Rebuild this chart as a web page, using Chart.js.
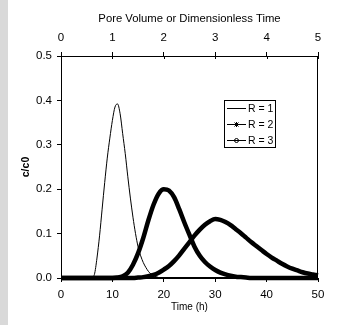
<!DOCTYPE html>
<html><head><meta charset="utf-8">
<script src="https://cdn.jsdelivr.net/npm/chart.js@4.4.0/dist/chart.umd.min.js"></script>
<style>
html,body{margin:0;padding:0;background:#fff;}
#wrap{position:relative;width:338px;height:325px;overflow:hidden;}
#strip{position:absolute;left:0;top:0;width:8px;height:325px;background:#d9d9d9;}
canvas{position:absolute;left:0;top:0;}
</style></head><body>
<div id="wrap"><div id="strip"></div><canvas id="c" width="338" height="325"></canvas></div>
<script>
// ---- data ----
const seriesLabels = ['R = 1', 'R = 2', 'R = 3'];
const timeHours = [0,1,2,3,4,5,6,7,8,9,10,11,12,13,14,15,16,17,18,19,20,21,22,23,24,25,26,27,28,29,30,31,32,33,34,35,36,37,38,39,40,41,42,43,44,45,46,47,48,49,50];
const r1Times = [0,5,5.5,6,6.5,7,7.5,8,8.5,9,9.5,10,10.5,11,11.5,12,12.5,13,13.5,14,14.5,15,15.5,16,16.5,17,17.5,18,18.5,19,20,50];
const r1Values = [0,0,0,0.001,0.008,0.045,0.095,0.155,0.215,0.27,0.315,0.355,0.385,0.392,0.37,0.325,0.28,0.228,0.18,0.137,0.1,0.07,0.05,0.035,0.024,0.015,0.009,0.005,0.003,0.001,0,0];
const r2Values = [0,0,0,0,0,0,0,0,0,0,0,0.001,0.004,0.012,0.03,0.056,0.09,0.13,0.165,0.19,0.2,0.197,0.182,0.155,0.125,0.097,0.07,0.05,0.036,0.026,0.018,0.012,0.008,0.005,0.003,0.002,0.001,0,0,0,0,0,0,0,0,0,0,0,0,0,0];
const r3Values = [0,0,0,0,0,0,0,0,0,0,0,0,0,0,0,0.001,0.002,0.004,0.007,0.012,0.019,0.027,0.038,0.051,0.066,0.081,0.096,0.109,0.12,0.128,0.133,0.131,0.126,0.119,0.11,0.101,0.091,0.081,0.072,0.063,0.054,0.046,0.039,0.032,0.026,0.021,0.017,0.013,0.01,0.008,0.006];
const bottomTickValues = [0,10,20,30,40,50];
const topTickValues = [0,1,2,3,4,5];
const yTickValues = [0,0.1,0.2,0.3,0.4,0.5];
const yTickLabels = ['0.0','0.1','0.2','0.3','0.4','0.5'];

const FONT = 'Liberation Sans, Arial, sans-serif';
const pts = (xs, ys) => xs.map((x, i) => ({x: x, y: ys[i]}));

const frame = {
  id: 'frame',
  afterDraw(chart) {
    const ctx = chart.ctx, a = chart.chartArea;
    ctx.save();
    ctx.strokeStyle = '#000'; ctx.lineWidth = 1;
    ctx.strokeRect(Math.round(a.left) + 0.5, Math.round(a.top) + 0.5, Math.round(a.right - a.left) - 1, Math.round(a.bottom - a.top) - 1);
    // inner part of top-axis ticks (they cross the axis)
    const s = chart.scales.x2;
    ctx.beginPath();
    topTickValues.forEach(v => {
      const px = Math.round(s.getPixelForValue(v)) + 0.5;
      ctx.moveTo(px, a.top); ctx.lineTo(px, a.top + 3);
    });
    ctx.stroke();
    // legend
    const lx = 224, ly = 100, lw = 52, lh = 48;
    ctx.fillStyle = '#fff';
    ctx.fillRect(lx, ly, lw, lh);
    ctx.strokeRect(lx + 0.5, ly + 0.5, lw - 1, lh - 1);
    ctx.font = '10.5px ' + FONT;
    ctx.textBaseline = 'middle';
    ctx.textAlign = 'left';
    const rows = [108, 124, 140];
    chart.data.datasets.forEach((ds, i) => {
      const y = Math.round(rows[i]) + 0.5;
      ctx.beginPath();
      ctx.strokeStyle = '#000'; ctx.lineWidth = 1;
      ctx.moveTo(227, y); ctx.lineTo(246, y); ctx.stroke();
      if (i === 1) {
        ctx.beginPath();
        ctx.moveTo(234.5, y - 2); ctx.lineTo(238.5, y + 2);
        ctx.moveTo(238.5, y - 2); ctx.lineTo(234.5, y + 2);
        ctx.moveTo(236.5, y - 2.5); ctx.lineTo(236.5, y + 2.5);
        ctx.stroke();
      } else if (i === 2) {
        ctx.beginPath();
        ctx.arc(236.5, y, 2, 0, Math.PI * 2);
        ctx.stroke();
      }
      ctx.fillStyle = '#000';
      ctx.fillText(ds.label, 248, y + 0.5);
    });
    ctx.restore();
  }
};

const tickFont = {family: FONT, size: 11.5};
new Chart(document.getElementById('c'), {
  type: 'line',
  data: {
    datasets: [
      {label: seriesLabels[0], data: pts(r1Times, r1Values), borderColor: '#000', borderWidth: 1, pointRadius: 0, cubicInterpolationMode: 'monotone', clip: false, order: 3, xAxisID: 'x', yAxisID: 'y'},
      {label: seriesLabels[1], data: pts(timeHours, r2Values), borderColor: '#000', borderWidth: 4.5, pointRadius: 0, cubicInterpolationMode: 'monotone', clip: false, order: 2, xAxisID: 'x', yAxisID: 'y', borderCapStyle: 'butt', borderJoinStyle: 'round'},
      {label: seriesLabels[2], data: pts(timeHours, r3Values), borderColor: '#000', borderWidth: 4.5, pointRadius: 0, cubicInterpolationMode: 'monotone', clip: false, order: 1, xAxisID: 'x', yAxisID: 'y', borderCapStyle: 'butt', borderJoinStyle: 'round'}
    ]
  },
  options: {
    responsive: false,
    animation: false,
    devicePixelRatio: 1,
    layout: {padding: {left: 0, right: 20, top: 0, bottom: 0}},
    plugins: {legend: {display: false}, tooltip: {enabled: false}},
    scales: {
      x: {
        type: 'linear', position: 'bottom', min: 0, max: 50,
        afterBuildTicks: s => { s.ticks = bottomTickValues.map(v => ({value: v})); },
        ticks: {color: '#000', font: tickFont, padding: 6, maxRotation: 0, autoSkip: false},
        grid: {drawOnChartArea: false, drawTicks: true, tickLength: 4, tickColor: '#000'},
        border: {display: true, color: '#000', width: 1},
        title: {display: true, text: 'Time (h)', color: '#000', font: {family: FONT, size: 10}, padding: {top: 0, bottom: 12}},
        afterFit: s => { s.height = 47; }
      },
      x2: {
        type: 'linear', position: 'top', min: 0, max: 5,
        afterBuildTicks: s => { s.ticks = topTickValues.map(v => ({value: v})); },
        ticks: {color: '#000', font: tickFont, padding: 7, maxRotation: 0, autoSkip: false},
        grid: {drawOnChartArea: false, drawTicks: true, tickLength: 4, tickColor: '#000'},
        border: {display: true, color: '#000', width: 1},
        title: {display: true, text: 'Pore Volume or Dimensionless Time', color: '#000', font: {family: FONT, size: 11.3}, padding: {top: 12, bottom: 0}},
        afterFit: s => { s.height = 56; }
      },
      y: {
        type: 'linear', position: 'left', min: 0, max: 0.5,
        afterBuildTicks: s => { s.ticks = yTickValues.map(v => ({value: v})); },
        ticks: {color: '#000', font: tickFont, padding: 5, callback: (v) => yTickLabels[yTickValues.findIndex(t => Math.abs(t - v) < 1e-9)]},
        grid: {drawOnChartArea: false, drawTicks: true, tickLength: 4, tickColor: '#000'},
        border: {display: true, color: '#000', width: 1},
        title: {display: true, text: 'c/c0', color: '#000', font: {family: FONT, size: 10.5, weight: 'bold'}, padding: {top: 20, bottom: 0}},
        afterFit: s => { s.width = 61; }
      }
    }
  },
  plugins: [frame]
});
</script>
</body></html>
